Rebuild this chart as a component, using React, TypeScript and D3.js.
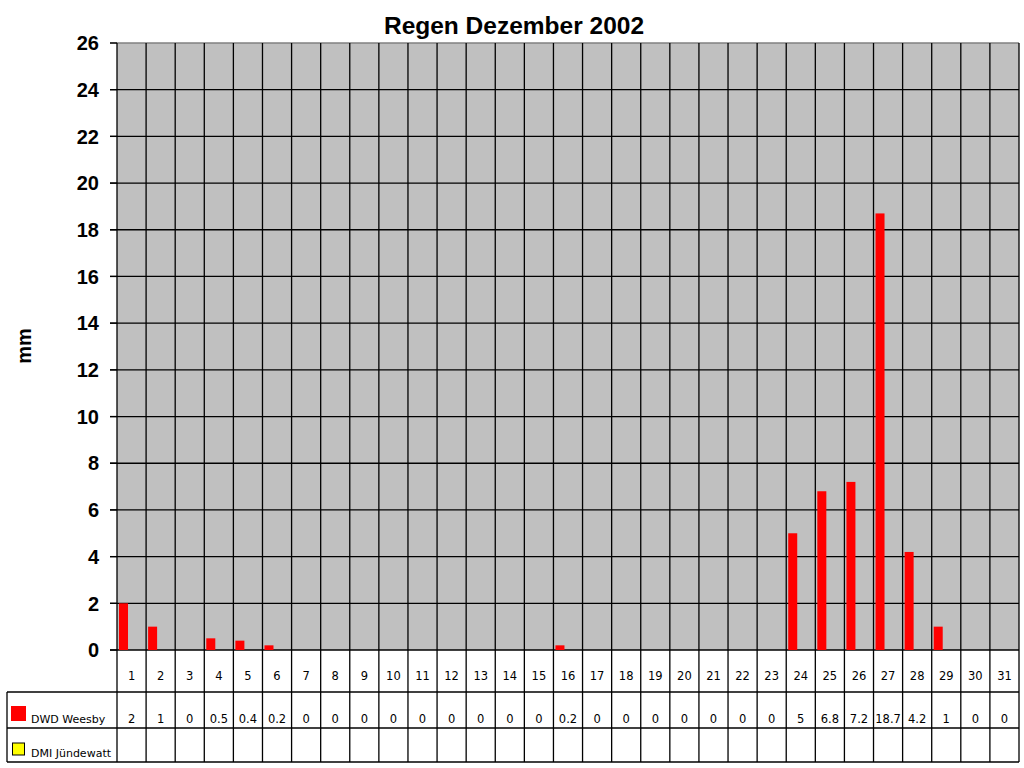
import React, { useEffect } from "react";
import * as d3 from "d3";

const days = d3.range(1, 32).map(String);
const seriesNames = ["DWD Weesby", "DMI Jündewatt"];
const seriesColors = ["#ff0000", "#ffff00"];
const dwdWeesby: (number | null)[] = [
  2, 1, 0, 0.5, 0.4, 0.2, 0, 0, 0, 0, 0, 0, 0, 0, 0, 0.2, 0, 0, 0, 0, 0, 0, 0,
  5, 6.8, 7.2, 18.7, 4.2, 1, 0, 0,
];
const dmiJuendewatt: (number | null)[] = days.map(() => null);
const yTicks = d3.range(0, 27, 2);

const W = 1024;
const H = 768;
const plot = { left: 117, right: 1019, top: 43, bottom: 650 };
const rows = { cat: 692, s1: 728, s2: 762 };
const tableLeft = 7;

export default function App() {
  useEffect(() => {
    document.body.style.margin = "0";
  }, []);

  const x = d3.scaleBand<string>().domain(days).range([plot.left, plot.right]);
  // two series per day; the second one (DMI) has no values this month
  const xs = d3
    .scaleBand<string>()
    .domain(seriesNames)
    .range([0, x.bandwidth()])
    .paddingInner(0.44)
    .paddingOuter(0.124);
  const y = d3.scaleLinear().domain([0, 26]).range([plot.bottom, plot.top]);

  const series = [dwdWeesby, dmiJuendewatt];
  const fmt = (v: number | null) => (v == null ? "" : String(v));
  const tableFont = "'DejaVu Sans', Verdana, sans-serif";

  return (
    <svg width={W} height={H} style={{ display: "block", background: "#fff" }}>
      <text
        x={514}
        y={34}
        textAnchor="middle"
        fontFamily="Arial, 'Liberation Sans', sans-serif"
        fontWeight="bold"
        fontSize={24.5}
      >
        Regen Dezember 2002
      </text>

      {/* plot area */}
      <rect
        x={plot.left}
        y={plot.top}
        width={plot.right - plot.left}
        height={plot.bottom - plot.top}
        fill="#c0c0c0"
      />
      {yTicks.map((t) => (
        <g key={t}>
          <line
            x1={plot.left - 7}
            x2={plot.right}
            y1={y(t)}
            y2={y(t)}
            stroke={t === 26 ? "#808080" : "#000"}
            strokeWidth={1.3}
          />
          <line x1={plot.left - 7} x2={plot.left} y1={y(t)} y2={y(t)} stroke="#000" strokeWidth={1.3} />
          <text
            x={99}
            y={y(t)}
            dy="0.36em"
            textAnchor="end"
            fontFamily="Arial, 'Liberation Sans', sans-serif"
            fontWeight="bold"
            fontSize={20}
          >
            {t}
          </text>
        </g>
      ))}

      <text
        transform="translate(31,346) rotate(-90)"
        textAnchor="middle"
        fontFamily="Arial, 'Liberation Sans', sans-serif"
        fontWeight="bold"
        fontSize={20}
      >
        mm
      </text>

      {/* bars */}
      {series.map((vals, si) =>
        vals.map((v, i) =>
          v == null || v === 0 ? null : (
            <rect
              key={`${si}-${i}`}
              x={(x(days[i]) ?? 0) + (xs(seriesNames[si]) ?? 0)}
              y={y(v)}
              width={xs.bandwidth()}
              height={y(0) - y(v)}
              fill={seriesColors[si]}
            />
          ),
        ),
      )}

      {/* vertical category lines through plot and table */}
      {days.map((d) => (
        <line
          key={d}
          x1={x(d)}
          x2={x(d)}
          y1={plot.top}
          y2={rows.s2}
          stroke="#000"
          strokeWidth={1.3}
        />
      ))}
      <line x1={plot.right} x2={plot.right} y1={plot.top} y2={rows.s2} stroke="#000" strokeWidth={1.3} />

      {/* data table */}
      <line x1={tableLeft} x2={tableLeft} y1={rows.cat} y2={rows.s2} stroke="#000" strokeWidth={1.3} />
      {[rows.cat, rows.s1, rows.s2].map((ry) => (
        <line key={ry} x1={tableLeft} x2={plot.right} y1={ry} y2={ry} stroke="#000" strokeWidth={1.3} />
      ))}
      <g fontFamily={tableFont} fontSize={11.5} textAnchor="middle">
        {days.map((d) => (
          <text key={d} x={(x(d) ?? 0) + x.bandwidth() / 2} y={680}>
            {d}
          </text>
        ))}
        {series.map((vals, si) =>
          vals.map((v, i) => (
            <text
              key={`${si}-${i}`}
              x={(x(days[i]) ?? 0) + x.bandwidth() / 2}
              y={si === 0 ? 723 : 757}
            >
              {fmt(v)}
            </text>
          )),
        )}
      </g>

      {/* legend keys */}
      <rect x={11} y={706} width={15} height={15} fill={seriesColors[0]} />
      <rect x={12.5} y={743} width={12} height={12} fill={seriesColors[1]} stroke="#000" strokeWidth={1} />
      <g fontFamily={tableFont} fontSize={11}>
        <text x={31} y={723}>{seriesNames[0]}</text>
        <text x={31} y={757}>{seriesNames[1]}</text>
      </g>
    </svg>
  );
}
